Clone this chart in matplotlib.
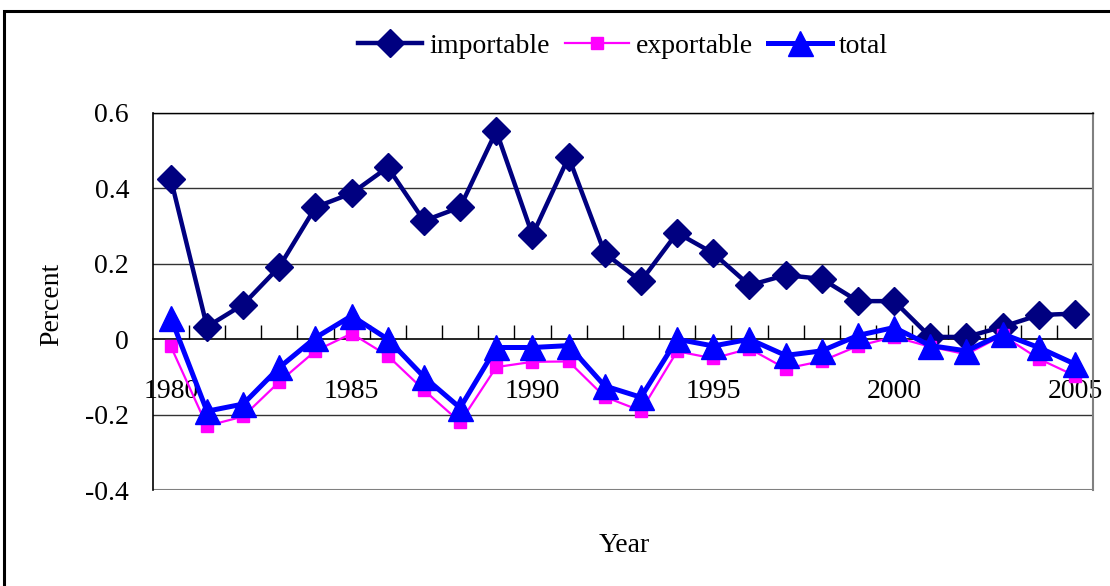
import matplotlib
matplotlib.use("Agg")
import matplotlib.pyplot as plt
from matplotlib.patches import Rectangle
from matplotlib.ticker import FixedLocator

plt.rcParams['font.family'] = ['Liberation Serif', 'DejaVu Serif']

years = list(range(1980, 2006))
importable = [0.425, 0.033, 0.092, 0.192, 0.350, 0.387, 0.456, 0.314, 0.350, 0.552,
              0.276, 0.483, 0.228, 0.154, 0.282, 0.228, 0.143, 0.170, 0.160, 0.101,
              0.101, 0.006, 0.006, 0.033, 0.064, 0.068]
exportable = [-0.019, -0.230, -0.205, -0.113, -0.031, 0.015, -0.044, -0.135, -0.220, -0.074,
              -0.060, -0.059, -0.153, -0.190, -0.032, -0.051, -0.025, -0.078, -0.058, -0.018,
              0.006, -0.020, -0.040, 0.010, -0.052, -0.097]
total = [0.057, -0.191, -0.172, -0.075, 0.004, 0.062, 0.000, -0.100, -0.182, -0.022,
         -0.022, -0.017, -0.124, -0.154, 0.000, -0.018, 0.000, -0.043, -0.031, 0.010,
         0.031, -0.017, -0.031, 0.014, -0.022, -0.066]

year_labels = [1980, 1985, 1990, 1995, 2000, 2005]
y_ticks = [-0.4, -0.2, 0, 0.2, 0.4, 0.6]

FS = 20

fig = plt.figure(figsize=(11.1, 5.86), dpi=100)
ax = fig.add_axes([0.1376, 0.1638, 0.9847 - 0.1376, 0.8072 - 0.1638])

# horizontal gridlines
for v in y_ticks:
    if v != 0:
        ax.axhline(v, color='#333333', lw=1.0, zorder=1)

ax.plot(years, importable, color='#000080', lw=3.2, marker='D', markersize=14,
        label='importable', zorder=3, clip_on=False)
ax.plot(years, exportable, color='#FF00FF', lw=1.6, marker='s', markersize=8,
        label='exportable', zorder=4, clip_on=False)
ax.plot(years, total, color='#0000FF', lw=3.6, marker='^', markersize=18,
        label='total', zorder=5, clip_on=False)

ax.set_xlim(1979.5, 2005.5)
ax.set_ylim(-0.4, 0.6)

# category axis sits on zero, ticks between categories pointing up
ax.spines['bottom'].set_position(('data', 0))
ax.spines['bottom'].set_color('black')
ax.spines['bottom'].set_linewidth(1.2)
ax.spines['bottom'].set_zorder(2)
ax.spines['left'].set_color('black')
ax.spines['left'].set_linewidth(1.2)
ax.spines['top'].set_color('black')
ax.spines['top'].set_linewidth(1.0)
ax.spines['right'].set_color('#808080')
ax.spines['right'].set_linewidth(1.5)
ax.axhline(-0.4, color='#808080', lw=1.5, zorder=2)

ax.set_xticks(year_labels)
ax.set_xticklabels([str(y) for y in year_labels], fontsize=FS)
ax.xaxis.set_minor_locator(FixedLocator([y + 0.5 for y in years[:-1]]))
ax.tick_params(axis='x', which='major', length=0, pad=29)
ax.tick_params(axis='x', which='minor', direction='in', length=10, width=1, color='black')

ax.set_yticks(y_ticks)
ax.set_yticklabels(['-0.4', '-0.2', '0', '0.2', '0.4', '0.6'], fontsize=FS)
ax.tick_params(axis='y', length=0, pad=17)

fig.text(52 / 1110, 1 - 304 / 586, 'Percent', rotation=90, fontsize=FS,
         ha='center', va='center')
fig.text(624 / 1110, 1 - 546 / 586, 'Year', fontsize=FS, ha='center', va='center')

fig.legend(loc='center', bbox_to_anchor=(623 / 1110, 1 - 46 / 586), ncol=3,
           frameon=False, fontsize=FS, handlelength=2.3, handletextpad=0.25,
           columnspacing=0.55, borderpad=0, markerscale=1.0)

# outer chart frame
fig.patches.append(Rectangle((4 / 1110, -0.1), 1.2, 1.1 - 11 / 586, fill=False,
                             lw=2.2, ec='black', transform=fig.transFigure,
                             figure=fig))

fig.savefig('out.png', dpi=100)
